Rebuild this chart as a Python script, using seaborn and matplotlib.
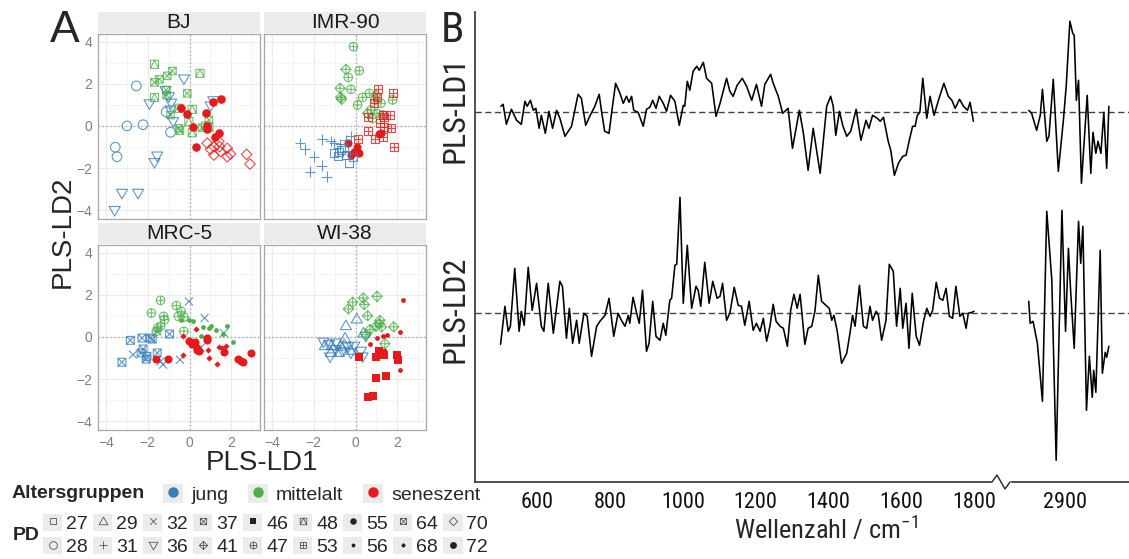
import numpy as np
import matplotlib
matplotlib.use("Agg")
import matplotlib.pyplot as plt
import seaborn as sns
from matplotlib.path import Path
from matplotlib.patches import Patch, Rectangle
from matplotlib.lines import Line2D
from matplotlib.legend_handler import HandlerTuple
from matplotlib import font_manager as fm

# ------------------------------------------------------------------ data
AGE_GROUPS = ["jung", "mittelalt", "seneszent"]
GROUP_COLORS = ["#377EB8", "#4DAF4A", "#E41A1C"]
CELL_LINES = ["BJ", "IMR-90", "MRC-5", "WI-38"]
PD_LEVELS = [27, 28, 29, 31, 32, 36, 37, 41, 46, 47, 48, 53, 55, 56, 64, 68, 70, 72]

# age group of each population doubling (PD) per cell line
BJ_GROUP = {28: "jung", 36: "jung", 64: "mittelalt", 48: "mittelalt", 72: "seneszent", 70: "seneszent"}
IMR_GROUP = {27: "jung", 31: "jung", 47: "mittelalt", 41: "mittelalt", 53: "seneszent", 55: "seneszent"}
MRC_GROUP = {37: "jung", 32: "jung", 47: "mittelalt", 56: "mittelalt", 55: "seneszent", 68: "seneszent"}
WI_GROUP = {29: "jung", 36: "jung", 41: "mittelalt", 46: "seneszent", 56: "seneszent"}

# PLS-LD1 scores
BJ_LD1 = {
    28: [-2.55, -3.00, -2.23, -3.56, -3.48, -1.12, -0.91],
    36: [-0.27, -1.92, -1.15, -0.99, -0.88, -0.79, -0.91, -1.55, -1.68, -3.24, -2.47, -3.59, 1.14, 1.01],
    64: [-1.44, -1.07, -0.82, -1.68, -1.12, -1.10, -0.91, -0.11, -0.51, -0.46, 0.93, 0.61],
    48: [-1.68, 0.50, -1.68, 0.13, 0.13, -0.03, 0.77, 0.93, -0.51],
    72: [-0.43, -0.14, 0.16, 0.32, 0.77, 0.82, 0.82, 1.12, 1.52, 1.41, 1.20],
    70: [1.41, 1.17, 1.01, 1.17, 1.49, 1.81, 1.97, 1.81, 2.74, 2.90, 1.44, 0.85],
}
# PLS-LD2 scores
BJ_LD2 = {
    28: [1.90, 0.00, 0.06, -1.01, -1.46, 0.67, -0.30],
    36: [2.23, 1.05, 1.68, 1.39, 1.08, 0.21, 0.76, -1.43, -1.74, -3.20, -3.20, -4.02, 1.20, 0.95],
    64: [2.22, 2.38, 2.61, 2.07, 1.71, 1.47, 0.52, 1.55, -0.11, -0.22, 0.29, -0.08],
    48: [2.93, 2.50, 1.35, 0.79, -0.32, 0.21, 0.00, -0.08, 0.84],
    72: [0.84, 0.55, -0.03, -0.98, 0.63, 0.00, -0.16, 1.12, 1.28, -0.32, -0.51],
    70: [-0.74, -0.98, -1.11, -1.38, -1.22, -1.06, -1.33, -1.46, -1.35, -1.81, -0.98, -0.82],
}
IMR_LD1 = {
    47: [-0.10, 0.18, -0.35, -0.22, 0.34, 0.10, 0.66, 0.93, 0.74, 1.03, 1.22, 1.78, 0.82, 1.30],
    41: [-0.46, -0.74, -0.67, -0.71, 0.58, 0.98],
    53: [1.06, 1.78, 0.87, 1.03, 0.61, 1.30, 1.67, 1.38, 1.19, 0.58, 1.38, 1.70, 1.30, 0.93, 1.83, 0.13],
    55: [-0.35, 0.06, -0.06, -0.22, 0.18, 1.14, 1.22],
    27: [-0.79, -0.83, -0.46, -0.30, -0.54, -1.03, -0.14, -0.71],
    31: [-2.66, -2.42, -1.59, -1.99, -1.63, -2.18, -1.38, -1.19, -1.03, -0.74, -0.22, -0.46],
}
IMR_LD2 = {
    47: [3.77, 2.63, 2.31, 1.74, 1.36, 1.00, 1.55, 1.24, 0.76, 0.60, 1.08, 1.24, 0.36, 0.52],
    41: [2.69, 1.79, 1.27, 1.36, 0.60, 1.47],
    53: [1.74, 1.58, 1.11, 1.39, 0.44, 0.52, 0.52, 0.41, 0.16, -0.22, -0.03, -0.11, -0.51, -0.63, -1.01, -0.63],
    55: [-0.79, -0.98, -1.22, -1.38, -1.27, -0.38, -0.32],
    27: [-1.22, -1.43, -1.38, -1.77, -1.06, -1.30, -1.46, -1.14],
    31: [-0.82, -1.11, -0.63, -1.46, -1.88, -2.17, -2.41, -0.71, -0.82, -0.86, -0.48, -0.67],
}
MRC_LD1 = {
    37: [-2.84, -3.24, -2.28, -2.23, -2.32, -2.08, -2.04, -1.88, -1.55, -0.96, -1.79],
    32: [-2.71, -0.03, 0.72, -1.27, -0.46, 1.65, 0.53, -1.55, -1.39],
    47: [-1.39, -1.83, -1.24, -1.20, -1.39, -1.52, -0.63, -0.40, -0.54, -0.27, -0.27, -1.59],
    56: [-0.43, -0.03, 0.18, 0.64, 0.93, 1.04, 1.25, 0.53, 1.81, 1.62, 2.10],
    55: [-1.60, -1.04, -0.03, 0.13, 0.24, 0.37, 0.45, 0.37, 0.82, 0.85, 1.65, 2.32, 2.45, 2.58, 2.93],
    68: [-0.30, 0.29, -0.30, 0.88, 0.93, 1.30, 1.41, 1.57, 1.73],
}
MRC_LD2 = {
    37: [-0.16, -1.20, -0.05, -0.57, -0.76, -1.05, -0.92, -0.05, -0.76, 0.14, -0.10],
    32: [-0.84, 1.69, 0.90, -1.31, -1.08, 0.19, -0.52, 0.27, -1.16],
    47: [1.74, 1.14, 0.98, 0.82, 0.51, 0.43, 1.49, 1.22, 0.98, 0.95, 0.27, 0.27],
    56: [0.82, 0.79, 0.78, 0.48, 0.43, 0.51, 0.32, 0.06, 0.54, 0.16, -0.22],
    55: [-1.05, -1.05, -0.21, -0.32, -0.25, -0.52, -0.68, -0.63, -0.05, -0.16, -0.71, -1.05, -1.16, -1.20, -0.76],
    68: [0.06, 0.40, -0.87, -0.63, -1.00, -1.27, -0.49, -0.52, -0.41],
}
WI_LD1 = {
    29: [0.06, -0.50, -0.54, -0.46, -0.71, -1.14, -0.79, -1.18, -0.22, 0.38, -1.47],
    36: [-1.54, -1.27, -1.22, -0.95, -0.63, -0.35, -0.22, -0.06, 0.26, 0.34, 0.50, -0.95],
    41: [-0.14, -0.34, 0.37, 0.42, 1.03, 0.58, 1.17, 0.69, 0.98, 1.25, 1.83, 0.50, 1.41, 1.14],
    46: [0.18, 0.98, 1.14, 1.35, 1.97, 2.05, 0.98, 1.46, 0.61, 0.82, 1.30],
    56: [2.29, 2.13, 1.03, 0.69, 1.33, 1.51, 2.13],
}
WI_LD2 = {
    29: [0.86, -0.05, -0.36, 0.54, -0.44, -0.41, -0.73, -0.73, -0.63, 0.19, -0.41],
    36: [-0.25, -0.36, -0.95, -0.60, -0.68, -0.48, -0.76, -0.44, -0.68, -0.95, 0.03, -0.29],
    41: [1.65, 1.33, 1.85, 1.54, 1.93, 1.01, 0.79, 0.35, 0.51, 0.48, 0.48, 0.11, -0.32, 0.63],
    46: [-0.95, -0.95, -0.68, -0.84, -0.84, -1.08, -1.95, -1.87, -2.85, -2.82, -0.76],
    56: [1.74, 0.22, -0.05, -0.32, 0.06, 0.11, -1.55],
}

# panel B: PLS loadings (arbitrary units), fingerprint and C-H stretching regions
WN_LD1_LOW = [500, 506, 515, 529, 543, 556, 566, 572, 581, 589, 596, 605, 611, 622, 632, 642, 653, 662,
              676, 694, 712, 721, 733, 744, 758, 770, 776, 785, 797, 804, 815, 827, 836, 845, 852, 859,
              865, 877, 891, 900, 909, 917, 926, 935, 946, 955, 966, 978, 990, 1001, 1005, 1012, 1019,
              1028, 1038, 1045, 1056, 1065, 1079, 1091, 1102, 1120, 1129, 1138, 1149, 1163, 1175, 1189,
              1202, 1216, 1225, 1241, 1248, 1262, 1274, 1289, 1301, 1320, 1331, 1344, 1358, 1377, 1395,
              1406, 1413, 1420, 1430, 1439, 1450, 1461, 1476, 1489, 1503, 1511, 1521, 1534, 1542, 1551,
              1564, 1571, 1581, 1592, 1604, 1613, 1622, 1631, 1638, 1644, 1651, 1659, 1670, 1679, 1690,
              1702, 1717, 1729, 1739, 1748, 1760, 1771, 1782, 1789, 1798]
LD1_LOW = [0.06, 0.08, -0.12, 0.03, -0.08, -0.12, 0.11, 0.06, 0.12, 0.02, 0.04, -0.16, -0.03, -0.21,
           0.01, -0.16, 0.02, -0.06, -0.24, -0.14, 0.18, 0.14, -0.13, -0.04, 0.06, 0.18, 0.02, -0.19,
           -0.21, -0.01, 0.29, 0.19, 0.09, 0.16, 0.10, 0.16, 0.02, 0.00, -0.14, 0.03, 0.05, 0.12, 0.04,
           0.16, 0.09, 0.01, 0.17, 0.11, -0.13, 0.07, 0.06, 0.31, 0.22, 0.41, 0.46, 0.42, 0.50, 0.34,
           0.29, -0.04, 0.09, 0.34, 0.21, 0.16, 0.27, 0.34, 0.26, 0.12, 0.28, 0.06, 0.28, 0.38, 0.29,
           0.16, -0.01, 0.04, -0.36, 0.02, -0.21, -0.58, -0.16, -0.61, 0.06, 0.16, 0.06, -0.23, 0.01,
           -0.13, -0.24, -0.19, 0.03, -0.28, -0.08, -0.16, -0.03, -0.06, -0.09, -0.05, -0.29, -0.38,
           -0.63, -0.51, -0.44, -0.43, -0.28, -0.14, -0.14, -0.03, 0.00, 0.34, -0.06, 0.16, -0.03,
           0.12, 0.29, 0.16, 0.12, 0.04, 0.13, 0.06, 0.02, 0.10, -0.09]
WN_LD1_HIGH = [2850, 2854, 2861, 2866, 2869, 2875, 2878, 2884, 2891, 2898, 2902, 2907, 2911, 2913,
               2916, 2919, 2923, 2931, 2936, 2939, 2943, 2946, 2950, 2954, 2958, 2961]
LD1_HIGH = [0.02, -0.01, -0.18, -0.03, 0.23, -0.29, -0.24, 0.33, -0.59, -0.08, 0.27, 0.91, 0.79, 0.77,
            0.12, 0.32, -0.71, 0.17, -0.61, -0.20, -0.41, -0.29, -0.41, 0.00, -0.56, 0.06]
WN_LD2_LOW = [499, 511, 520, 526, 538, 550, 556, 564, 575, 586, 598, 611, 618, 630, 644, 662, 669, 680,
              688, 697, 708, 715, 728, 737, 749, 763, 772, 786, 797, 810, 822, 831, 841, 850, 854, 863,
              873, 880, 889, 900, 907, 917, 926, 937, 946, 953, 964, 969, 978, 983, 992, 1001, 1012,
              1024, 1036, 1042, 1049, 1060, 1072, 1082, 1094, 1102, 1109, 1120, 1129, 1141, 1152, 1161,
              1170, 1182, 1193, 1202, 1212, 1221, 1230, 1239, 1248, 1256, 1267, 1276, 1287, 1296, 1305,
              1314, 1322, 1335, 1344, 1354, 1363, 1372, 1381, 1393, 1402, 1409, 1415, 1424, 1436, 1450,
              1459, 1466, 1473, 1485, 1496, 1505, 1514, 1521, 1531, 1537, 1546, 1558, 1567, 1578, 1587,
              1597, 1604, 1613, 1621, 1630, 1641, 1650, 1661, 1670, 1679, 1686, 1696, 1705, 1714, 1723,
              1732, 1741, 1750, 1761, 1769, 1778, 1784, 1794, 1800]
LD2_LOW = [-0.31, 0.07, -0.18, -0.13, 0.45, -0.18, 0.02, -0.12, 0.46, 0.03, 0.30, -0.13, -0.18, 0.30,
           -0.20, 0.32, 0.27, -0.25, 0.05, -0.30, -0.07, -0.30, 0.00, -0.03, -0.43, -0.13, -0.08, -0.02,
           0.15, -0.23, 0.00, -0.07, -0.13, -0.02, -0.10, 0.16, 0.00, -0.10, 0.23, -0.38, -0.30, 0.12,
           -0.23, -0.27, -0.10, -0.22, 0.13, 0.15, 0.48, 0.49, 1.16, 0.10, 0.68, 0.05, 0.27, 0.23, 0.07,
           0.51, 0.10, 0.32, 0.15, 0.17, 0.30, -0.07, 0.00, 0.26, 0.08, 0.07, -0.12, 0.12, -0.17, -0.10,
           -0.18, -0.05, -0.28, -0.13, 0.09, -0.08, -0.13, -0.15, -0.33, 0.03, 0.19, 0.05, 0.19, -0.31,
           -0.15, -0.13, 0.03, 0.38, 0.12, 0.08, 0.05, -0.07, -0.02, -0.18, -0.50, -0.40, -0.20, -0.02,
           -0.13, 0.28, -0.13, -0.15, 0.07, -0.07, 0.02, -0.02, -0.27, -0.07, 0.49, 0.42, -0.13, 0.25,
           -0.15, 0.10, -0.35, 0.20, -0.23, -0.32, -0.08, 0.05, -0.03, 0.03, 0.31, 0.15, 0.13, 0.25,
           -0.03, -0.05, 0.27, -0.03, 0.00, -0.15, 0.00, 0.01, 0.02]
WN_LD2_HIGH = [2850, 2852, 2856, 2862, 2869, 2875, 2882, 2888, 2896, 2901, 2905, 2908, 2913, 2919,
               2922, 2925, 2930, 2934, 2938, 2940, 2943, 2949, 2952, 2956, 2958, 2961]
LD2_HIGH = [0.12, -0.10, -0.08, -0.30, -0.88, 1.02, 0.33, -1.47, 1.03, -0.18, 0.65, 0.23, -0.35, 0.92,
            0.50, 0.87, -0.97, -0.43, -0.84, -0.57, -0.79, 0.63, -0.60, -0.39, -0.44, -0.33]

LOW_TICKS = [600, 800, 1000, 1200, 1400, 1600, 1800]
HIGH_TICKS = [2850, 2900, 2950]
HIGH_TICK_LABELS = ["", "2900", ""]

# ------------------------------------------------------------------ style
sns.set_theme(style="white")
plt.rcParams["font.family"] = ["Liberation Sans", "DejaVu Sans"]
plt.rcParams["mathtext.default"] = "regular"


def find_narrow():
    """Look for a condensed sans-serif face (the right panel uses a narrow font)."""
    prefs = ["Liberation Sans Narrow", "Arial Narrow", "Roboto Condensed", "Open Sans Condensed",
             "Noto Sans", "DejaVu Sans Condensed", "DejaVu Sans"]
    found = {}
    for f in fm.fontManager.ttflist:
        narrow = ("Narrow" in f.name or "Condensed" in f.name or
                  str(f.stretch).lower() in ("condensed", "semi-condensed", "extra-condensed"))
        if not narrow or f.style != "normal":
            continue
        if str(f.weight) not in ("400", "normal", "regular", "book"):
            continue
        found.setdefault(f.name, f.fname)
    for p in prefs:
        if p in found:
            return found[p]
    return None


_narrow_file = find_narrow()


def nfont(size):
    if _narrow_file:
        return fm.FontProperties(fname=_narrow_file, size=size)
    return fm.FontProperties(family="Liberation Sans", size=size * 0.85)


W, H = 1129, 559
fig = plt.figure(figsize=(W / 100, H / 100), dpi=100)
fig.patch.set_facecolor("white")


def box(l, t, r, b):
    return [l / W, 1 - b / H, (r - l) / W, (b - t) / H]


# marker shapes (ggplot-like)
MV, LN, CL = Path.MOVETO, Path.LINETO, Path.CLOSEPOLY
SQ = Path([(-1, -1), (1, -1), (1, 1), (-1, 1), (-1, -1)], [MV, LN, LN, LN, CL])
CIRC = Path.unit_circle()
TRI_UP = Path([(0, 1), (-1, -0.73), (1, -0.73), (0, 1)], [MV, LN, LN, CL])
TRI_DN = Path([(0, -1), (-1, 0.73), (1, 0.73), (0, -1)], [MV, LN, LN, CL])
PLUS = Path([(-1, 0), (1, 0), (0, -1), (0, 1)], [MV, LN, MV, LN])
CROSS = Path([(-1, -1), (1, 1), (-1, 1), (1, -1)], [MV, LN, MV, LN])
DIAM = Path([(0, 1), (1, 0), (0, -1), (-1, 0), (0, 1)], [MV, LN, LN, LN, CL])
SQ_X = Path.make_compound_path(SQ, CROSS)
SQ_PLUS = Path.make_compound_path(SQ, PLUS)
SQ_TRI = Path.make_compound_path(SQ, Path([(-1, -1), (0, 1), (1, -1)], [MV, LN, LN]))
CIRC_PLUS = Path.make_compound_path(CIRC, PLUS)
DIAM_PLUS = Path.make_compound_path(DIAM, PLUS)

# PD -> (marker, size in pt^2, filled)
MARKERS = {
    27: (SQ, 32, False), 28: (CIRC, 48, False), 29: (TRI_UP, 64, False), 31: (PLUS, 58, False),
    32: (CROSS, 34, False), 36: (TRI_DN, 64, False), 37: (SQ_X, 32, False), 41: (DIAM_PLUS, 55, False),
    46: (SQ, 34, True), 47: (CIRC_PLUS, 38, False), 48: (SQ_TRI, 34, False), 53: (SQ_PLUS, 32, False),
    55: (CIRC, 34, True), 56: (CIRC, 12, True), 64: (SQ_X, 29, False), 68: (DIAM, 20, True),
    70: (DIAM, 58, False), 72: (CIRC, 38, True),
}

GRAY_TXT = "#7f7f7f"
BORDER = "#a6a6a6"
KEY_BG = "#ebebeb"

facets = [
    ("BJ", BJ_LD1, BJ_LD2, BJ_GROUP, box(98, 34, 260, 219), True, False),
    ("IMR-90", IMR_LD1, IMR_LD2, IMR_GROUP, box(264, 34, 426, 219), False, False),
    ("MRC-5", MRC_LD1, MRC_LD2, MRC_GROUP, box(98, 245, 260, 430), True, True),
    ("WI-38", WI_LD1, WI_LD2, WI_GROUP, box(264, 245, 426, 430), False, True),
]
for name, ld1, ld2, groups, rect, left, bottom in facets:
    ax = fig.add_axes(rect)
    ax.set_facecolor("white")
    ax.set_xlim(-4.39, 3.38)
    ax.set_ylim(-4.42, 4.37)
    ax.set_xticks([-4, -2, 0, 2])
    ax.set_yticks([-4, -2, 0, 2, 4])
    ax.set_xticks([-3, -1, 1, 3], minor=True)
    ax.set_yticks([-3, -1, 1, 3], minor=True)
    ax.grid(True, which="major", color="#ebebeb", lw=0.8)
    ax.grid(True, which="minor", color="#f4f4f4", lw=0.6)
    ax.set_axisbelow(True)
    ax.axhline(0, color="#b3b3b3", ls=(0, (1.2, 1.6)), lw=1.0, zorder=1)
    ax.axvline(0, color="#b3b3b3", ls=(0, (1.2, 1.6)), lw=1.0, zorder=1)
    for sp in ax.spines.values():
        sp.set_color(BORDER)
        sp.set_linewidth(0.9)
    ax.tick_params(which="major", width=0.7, color=BORDER, labelcolor=GRAY_TXT, labelsize=10, pad=1.5)
    ax.tick_params(axis="x", length=2.5 if bottom else 0)
    ax.tick_params(axis="y", length=2.5 if left else 0)
    ax.tick_params(which="minor", length=0)
    ax.tick_params(labelleft=left, labelbottom=bottom)
    # strip
    ax.add_patch(Rectangle((0, 1 + 1.5 / 185), 1, 20.5 / 185, transform=ax.transAxes,
                           facecolor=KEY_BG, edgecolor="none", clip_on=False))
    ax.text(0.5, 1 + 11.5 / 185, name, transform=ax.transAxes, ha="center", va="center",
            fontsize=15, color="#1a1a1a")
    for pd_ in ld1:
        mk, s, filled = MARKERS[pd_]
        col = GROUP_COLORS[AGE_GROUPS.index(groups[pd_])]
        sns.scatterplot(x=ld1[pd_], y=ld2[pd_], ax=ax, marker=mk, s=s, color=col, edgecolor=col,
                        facecolor=col if filled else "none", linewidth=0 if filled else 0.8,
                        alpha=1.0 if filled else 0.8, legend=False, zorder=3)
    ax.set_xlabel("")
    ax.set_ylabel("")

fig.text(50 / W, 1 - 30 / H, "A", fontsize=32, ha="left", va="center")
fig.text(63 / W, 1 - 232 / H, "PLS-LD2", fontsize=20, rotation=90, ha="center", va="center")
fig.text(262 / W, 1 - 463 / H, "PLS-LD1", fontsize=20, ha="center", va="center")

# legends
fig.text(12 / W, 1 - 494 / H, "Altersgruppen", fontsize=14, fontweight="bold", ha="left", va="center")
grp_handles = [(Patch(facecolor=KEY_BG, edgecolor="none"),
                Line2D([], [], ls="", marker="o", markersize=6.5, markerfacecolor=c, markeredgecolor=c))
               for c in GROUP_COLORS]
fig.legend(grp_handles, AGE_GROUPS, loc="center left", bbox_to_anchor=(163 / W, 1 - 494 / H),
           ncol=3, frameon=False, fontsize=14, handlelength=1.05, handleheight=1.15,
           handletextpad=0.4, columnspacing=1.0, borderpad=0, borderaxespad=0,
           handler_map={tuple: HandlerTuple(ndivide=1, pad=0)})

fig.text(13 / W, 1 - 536 / H, "PD", fontsize=14, fontweight="bold", ha="left", va="center")
pd_handles = []
for p in PD_LEVELS:
    mk, s, filled = MARKERS[p]
    pd_handles.append((Patch(facecolor=KEY_BG, edgecolor="none"),
                       Line2D([], [], ls="", marker=mk, markersize=np.sqrt(s) * 0.8,
                              markerfacecolor="#222222" if filled else "none",
                              markeredgecolor="#222222" if filled else "#555555",
                              markeredgewidth=0 if filled else 0.6)))
fig.legend(pd_handles, [str(p) for p in PD_LEVELS], loc="center left",
           bbox_to_anchor=(43 / W, 1 - 535 / H), ncol=9, frameon=False, fontsize=14,
           handlelength=1.0, handleheight=1.0, handletextpad=0.2, columnspacing=0.25,
           labelspacing=0.2, borderpad=0, borderaxespad=0,
           handler_map={tuple: HandlerTuple(ndivide=1, pad=0)})

# ------------------------------------------------------------------ panel B
LD1_OFFSET = 2.01
YLIM_B = (-1.687, 3.013)
axL = fig.add_axes(box(475, 12, 1001, 482))
axH = fig.add_axes(box(1001, 12, 1129, 482))
for ax in (axL, axH):
    ax.set_facecolor("none")
    ax.set_ylim(*YLIM_B)
    ax.axhline(0, color="#444444", ls=(0, (4.5, 2.5)), lw=1.0, zorder=1)
    ax.axhline(LD1_OFFSET, color="#444444", ls=(0, (4.5, 2.5)), lw=1.0, zorder=1)
    ax.set_yticks([])
    for k in ("top", "right"):
        ax.spines[k].set_visible(False)
    ax.spines["bottom"].set_color("#333333")
    ax.spines["bottom"].set_linewidth(1.2)
    ax.tick_params(axis="x", length=5, width=1, color="#333333", pad=2.5, labelcolor="#111111")
    ax.grid(False)
axH.spines["left"].set_visible(False)
axL.spines["left"].set_color("#333333")
axL.spines["left"].set_linewidth(1.2)

axL.set_xlim(428.8, 1873.9)
axH.set_xlim(2811.6, 2988.9)
axL.set_xticks(LOW_TICKS)
axL.set_xticklabels([str(t) for t in LOW_TICKS])
axH.set_xticks(HIGH_TICKS)
axH.set_xticklabels(HIGH_TICK_LABELS)
for ax in (axL, axH):
    for lab in ax.get_xticklabels():
        lab.set_fontproperties(nfont(16))

sns.lineplot(x=WN_LD1_LOW, y=np.asarray(LD1_LOW) + LD1_OFFSET, ax=axL, color="black", lw=1.15,
             estimator=None, sort=False, legend=False)
sns.lineplot(x=WN_LD2_LOW, y=LD2_LOW, ax=axL, color="black", lw=1.15, estimator=None, sort=False,
             legend=False)
sns.lineplot(x=WN_LD1_HIGH, y=np.asarray(LD1_HIGH) + LD1_OFFSET, ax=axH, color="black", lw=1.15,
             estimator=None, sort=False, legend=False)
sns.lineplot(x=WN_LD2_HIGH, y=LD2_HIGH, ax=axH, color="black", lw=1.15, estimator=None, sort=False,
             legend=False)
for ax in (axL, axH):
    ax.set_xlabel("")
    ax.set_ylabel("")

# axis break on the bottom axis
fig.add_artist(Line2D([993 / W, 1009 / W], [1 - 482 / H, 1 - 482 / H], color="white", lw=2.5,
                      transform=fig.transFigure))
fig.add_artist(Line2D([992 / W, 997 / W, 1005 / W, 1010 / W],
                      [1 - 482 / H, 1 - 475 / H, 1 - 489 / H, 1 - 482 / H],
                      color="#333333", lw=1.1, transform=fig.transFigure))

fig.text(452 / W, 1 - 30 / H, "B", fontproperties=nfont(31), ha="center", va="center")
fig.text(455 / W, 1 - 109 / H, "PLS-LD1", fontproperties=nfont(23), rotation=90,
         ha="center", va="center")
fig.text(455 / W, 1 - 309 / H, "PLS-LD2", fontproperties=nfont(23), rotation=90,
         ha="center", va="center")
fig.text(826 / W, 1 - 530 / H, r"Wellenzahl / cm$^{-1}$", fontproperties=nfont(19),
         ha="center", va="center")

fig.savefig("out.png", dpi=100, facecolor="white")
